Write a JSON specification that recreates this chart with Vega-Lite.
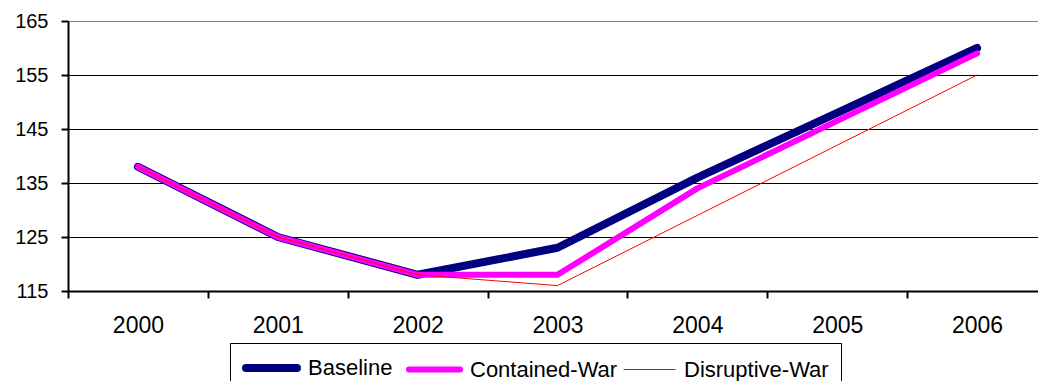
{
  "$schema": "https://vega.github.io/schema/vega-lite/v6.json",
  "autosize": "none",
  "width": 970,
  "height": 270,
  "padding": {"left": 68, "top": 21, "right": 0, "bottom": 90},
  "background": "white",
  "config": {
    "font": "Liberation Sans",
    "view": {"stroke": null}
  },
  "data": {
    "values": [
      {"year": "2000", "scenario": "Baseline", "value": 138},
      {"year": "2001", "scenario": "Baseline", "value": 125},
      {"year": "2002", "scenario": "Baseline", "value": 118},
      {"year": "2003", "scenario": "Baseline", "value": 123},
      {"year": "2004", "scenario": "Baseline", "value": 136},
      {"year": "2005", "scenario": "Baseline", "value": 148},
      {"year": "2006", "scenario": "Baseline", "value": 160},
      {"year": "2000", "scenario": "Contained-War", "value": 138},
      {"year": "2001", "scenario": "Contained-War", "value": 125},
      {"year": "2002", "scenario": "Contained-War", "value": 118},
      {"year": "2003", "scenario": "Contained-War", "value": 118},
      {"year": "2004", "scenario": "Contained-War", "value": 134},
      {"year": "2005", "scenario": "Contained-War", "value": 146.5},
      {"year": "2006", "scenario": "Contained-War", "value": 159},
      {"year": "2000", "scenario": "Disruptive-War", "value": 138},
      {"year": "2001", "scenario": "Disruptive-War", "value": 125},
      {"year": "2002", "scenario": "Disruptive-War", "value": 118},
      {"year": "2003", "scenario": "Disruptive-War", "value": 116},
      {"year": "2004", "scenario": "Disruptive-War", "value": 129},
      {"year": "2005", "scenario": "Disruptive-War", "value": 142},
      {"year": "2006", "scenario": "Disruptive-War", "value": 155}
    ]
  },
  "mark": {"type": "line", "strokeCap": "round", "strokeJoin": "round"},
  "encoding": {
    "x": {
      "field": "year",
      "type": "ordinal",
      "scale": {"type": "band", "range": [0, 979], "paddingInner": 0, "paddingOuter": 0},
      "axis": {
        "title": null,
        "labelAngle": 0,
        "labelFontSize": 23,
        "labelColor": "black",
        "labelPadding": 16,
        "tickBand": "extent",
        "tickSize": 7,
        "tickWidth": 2,
        "tickColor": "black",
        "domainColor": "black",
        "domainWidth": 2,
        "grid": false
      }
    },
    "y": {
      "field": "value",
      "type": "quantitative",
      "scale": {"domain": [115, 165], "nice": false, "zero": false},
      "axis": {
        "title": null,
        "values": [115, 125, 135, 145, 155, 165],
        "labelFontSize": 20,
        "labelColor": "black",
        "labelPadding": 13,
        "tickSize": 7,
        "tickWidth": 2,
        "tickColor": "black",
        "domainColor": "black",
        "domainWidth": 2,
        "grid": true,
        "gridColor": {"condition": {"test": "datum.value == 165", "value": "#808080"}, "value": "black"},
        "gridWidth": 1,
        "gridOpacity": 1
      }
    },
    "color": {
      "field": "scenario",
      "type": "nominal",
      "scale": {
        "domain": ["Baseline", "Contained-War", "Disruptive-War"],
        "range": ["#000080", "#FF00FF", "#FF0000"]
      },
      "legend": {
        "title": null,
        "orient": "none",
        "direction": "horizontal",
        "legendX": 162,
        "legendY": 322,
        "symbolType": "M-1,0H4.67",
        "symbolSize": 324,
        "labelFontSize": 22,
        "labelColor": "black",
        "labelOffset": 40,
        "columnPadding": 4,
        "padding": 12,
        "strokeColor": "black",
        "fillColor": "white",
        "encode": {
          "symbols": {
            "update": {
              "strokeCap": {"value": "round"},
              "strokeWidth": {"signal": "datum.value == 'Baseline' ? 8 : datum.value == 'Contained-War' ? 6 : 1"}
            }
          }
        }
      }
    },
    "strokeWidth": {
      "field": "scenario",
      "type": "ordinal",
      "scale": {
        "type": "ordinal",
        "domain": ["Baseline", "Contained-War", "Disruptive-War"],
        "range": [8, 6, 1]
      },
      "legend": null
    }
  }
}
